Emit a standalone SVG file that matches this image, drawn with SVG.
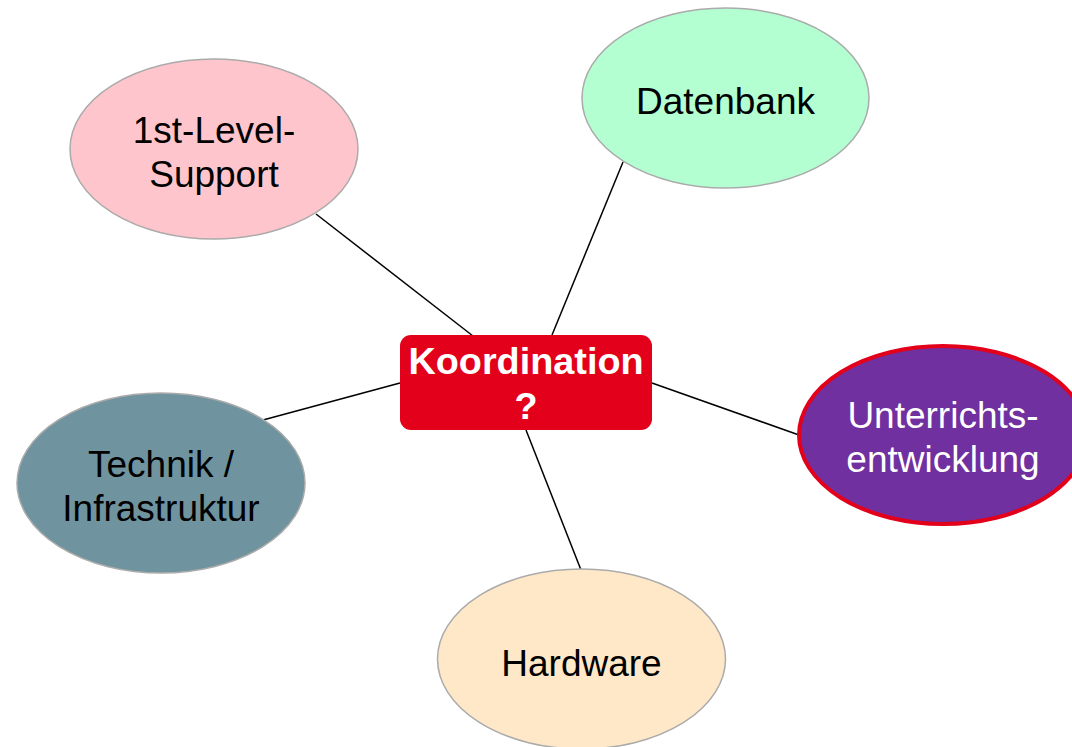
<svg xmlns="http://www.w3.org/2000/svg" width="1072" height="747" viewBox="0 0 1072 747">
<style>
.node{stroke:#ABABAB;stroke-width:1.5}
.lbl{font-family:"Liberation Sans",Arial,sans-serif;font-size:37px;fill:#000;text-anchor:middle}
.w{fill:#fff}
.b{font-weight:bold;font-size:37.8px}
.conn line{stroke:#000;stroke-width:1.5}
</style>
<rect width="1072" height="747" fill="#fff"/>
<g class="conn" id="connectors">
<line x1="316" y1="214" x2="473" y2="336"/>
<line x1="623" y1="162" x2="552" y2="335"/>
<line x1="263" y1="420" x2="400" y2="383"/>
<line x1="652" y1="383" x2="799" y2="435"/>
<line x1="526" y1="430" x2="581" y2="570"/>
</g>
<g id="n-support">
<ellipse class="node" cx="214" cy="149" rx="144" ry="90" fill="#FFC5CC"/>
<text class="lbl" x="214" y="143">1st-Level-</text>
<text class="lbl" x="214" y="187">Support</text>
</g>
<g id="n-datenbank">
<ellipse class="node" cx="725.5" cy="98" rx="143.5" ry="90" fill="#B3FFD1"/>
<text class="lbl" x="725.5" y="114">Datenbank</text>
</g>
<g id="n-technik">
<ellipse class="node" cx="161" cy="483" rx="144" ry="90" fill="#6F949F"/>
<text class="lbl" x="161" y="477">Technik /</text>
<text class="lbl" x="161" y="521">Infrastruktur</text>
</g>
<g id="n-unterricht">
<ellipse cx="943" cy="435" rx="144" ry="89" fill="#7030A0" stroke="#E3001B" stroke-width="4"/>
<text class="lbl w" x="943" y="428">Unterrichts-</text>
<text class="lbl w" x="943" y="472">entwicklung</text>
</g>
<g id="n-hardware">
<ellipse class="node" cx="581.5" cy="659" rx="144" ry="90" fill="#FFE8C8"/>
<text class="lbl" x="581.5" y="676">Hardware</text>
</g>
<g id="n-koordination">
<rect x="400" y="335" width="252" height="95" rx="11" fill="#E3001B"/>
<text class="lbl w b" x="526" y="374">Koordination</text>
<text class="lbl w b" x="526" y="419">?</text>
</g>
</svg>
